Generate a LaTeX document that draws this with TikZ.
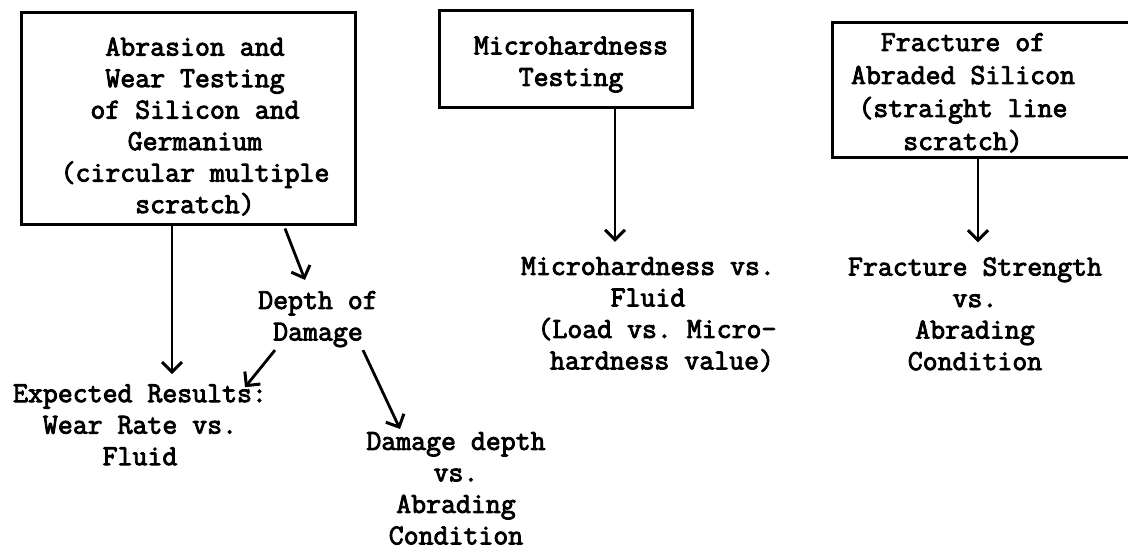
\documentclass[tikz,border=0pt]{standalone}
\usepackage{fontspec}
\setmonofont[FakeBold=3]{Latin Modern Mono}
\usetikzlibrary{arrows.meta}
\begin{document}
\begin{tikzpicture}[x=1pt,y=-1pt,
  txt/.style={inner sep=0pt, align=center,
    font=\ttfamily\fontsize{29}{31.5}\selectfont,
    execute at begin node=\strut, execute at end node=\strut},
  frame/.style={draw, line width=3pt, inner sep=0pt},
  area/.style={inner sep=0pt},
  arr/.style={line width=2.8pt, -{Straight Barb[length=10pt,width=20pt,line width=3pt]}}]
\useasboundingbox (0,0) rectangle (1128,554);

% boxes with their captions
\node[frame, minimum width=334pt, minimum height=212pt] (b1) at (188,118) {};
\node[txt] (t1) at (195,130) {Abrasion and\\Wear Testing\\of Silicon and\\Germanium\\(circular multiple\\scratch)};

\node[frame, minimum width=253pt, minimum height=97pt] (b2) at (565.5,58.5) {};
\node[txt] (t2) at (571,66) {Microhardness\\Testing};

% the third box runs off the right margin, so its right side is not drawn
\node[area, minimum width=307pt, minimum height=134pt] (b3) at (986.5,90) {};
\draw[line width=3pt, line cap=rect] (b3.north east) -- (b3.north west) -- (b3.south west) -- (b3.south east);
\node[txt, font=\ttfamily\fontsize{29}{33}\selectfont] (t3) at (963,96.5) {Fracture of\\Abraded Silicon\\(straight line\\scratch)};

% results
\node[txt] (r1) at (140,429.5) {Expected Results:\\Wear Rate vs.\\Fluid};
\node[txt] (d1) at (318,320.5) {Depth of\\Damage};
\node[txt] (r2) at (456,493) {Damage depth\\vs.\\Abrading\\Condition};
\node[txt] (r3) at (648,318) {Microhardness vs.\\Fluid\\\hspace*{18pt}(Load vs. Micro-\\\hspace*{28pt}hardness value)};
\node[txt] (r4) at (975,318.5) {Fracture Strength\\vs.\\Abrading\\Condition};

% connectors
\draw[arr] ([xshift=-16pt]b1.south) -- ([xshift=32pt,yshift=10pt]r1.north);
\draw[arr] ([xshift=97pt,yshift=-3pt]b1.south) -- ([xshift=-13pt,yshift=11pt]d1.north);
\draw[arr] ([xshift=-43pt]d1.south) -- ([xshift=105pt,yshift=-3pt]r1.north);
\draw[arr] ([xshift=45pt]d1.south) -- ([xshift=-56pt,yshift=3pt]r2.north);
\draw[arr] ([xshift=49.5pt]b2.south) -- ([xshift=-33pt,yshift=15pt]r3.north);
\draw[arr] ([xshift=-8.5pt]b3.south) -- ([xshift=3pt,yshift=15pt]r4.north);
\end{tikzpicture}
\end{document}
